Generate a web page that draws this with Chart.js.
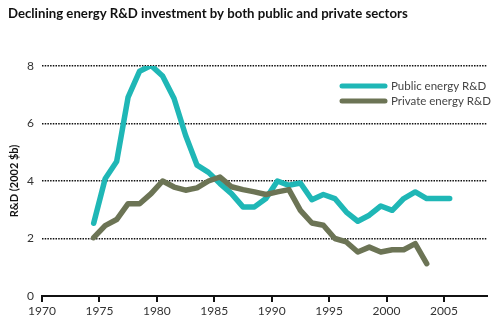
<!DOCTYPE html>
<html>
<head>
<meta charset="utf-8">
<script src="https://cdn.jsdelivr.net/npm/chart.js@4.4.0/dist/chart.umd.min.js"></script>
<style>
  html, body { margin: 0; padding: 0; background: #fff; }
  #wrap { width: 498px; height: 323px; position: relative; }
</style>
</head>
<body>
<div id="wrap"><canvas id="chart" width="498" height="323"></canvas></div>
<script>
const title = "Declining energy R&D investment by both public and private sectors";
const yTitle = "R&D (2002 $b)";
const xTicks = [1970, 1975, 1980, 1985, 1990, 1995, 2000, 2005];
const yTicks = [0, 2, 4, 6, 8];

const publicYears = [1974.5, 1975.5, 1976.5, 1977.5, 1978.5, 1979.5, 1980.5, 1981.5, 1982.5, 1983.5,
  1984.5, 1985.5, 1986.5, 1987.5, 1988.5, 1989.5, 1990.5, 1991.5, 1992.5, 1993.5,
  1994.5, 1995.5, 1996.5, 1997.5, 1998.5, 1999.5, 2000.5, 2001.5, 2002.5, 2003.5,
  2004.5, 2005.5];
const publicValues = [2.53, 4.08, 4.68, 6.92, 7.82, 8.02, 7.65, 6.87, 5.59, 4.55,
  4.3, 3.91, 3.56, 3.1, 3.1, 3.39, 4.0, 3.85, 3.93, 3.35,
  3.53, 3.39, 2.92, 2.6, 2.81, 3.13, 2.98, 3.39, 3.62, 3.39,
  3.39, 3.39];

const privateYears = [1974.5, 1975.5, 1976.5, 1977.5, 1978.5, 1979.5, 1980.5, 1981.5, 1982.5, 1983.5,
  1984.5, 1985.5, 1986.5, 1987.5, 1988.5, 1989.5, 1990.5, 1991.5, 1992.5, 1993.5,
  1994.5, 1995.5, 1996.5, 1997.5, 1998.5, 1999.5, 2000.5, 2001.5, 2002.5, 2003.5];
const privateValues = [2.03, 2.45, 2.66, 3.21, 3.21, 3.56, 4.0, 3.79, 3.68, 3.76,
  4.0, 4.14, 3.8, 3.7, 3.62, 3.53, 3.62, 3.7, 2.98, 2.54,
  2.46, 2.0, 1.88, 1.53, 1.7, 1.53, 1.61, 1.61, 1.82, 1.13];

const seriesNames = ["Public energy R&D", "Private energy R&D"];
const colors = ["#1fb7b6", "#6c7455"];

const toPoints = (xs, ys) => xs.map((x, i) => ({ x: x, y: ys[i] }));

// title + legend drawn straight on the canvas
const extras = {
  id: "extras",
  afterDraw(chart) {
    const ctx = chart.ctx;
    ctx.save();
    ctx.fillStyle = "#111";
    ctx.font = "bold 13.2px Lato, 'Open Sans', sans-serif";
    ctx.textBaseline = "middle";
    ctx.textAlign = "left";
    ctx.fillText(title, 8, 14);

    ctx.font = "11.5px Lato, 'Open Sans', sans-serif";
    seriesNames.forEach((name, i) => {
      const y = 86 + i * 15;
      ctx.strokeStyle = colors[i];
      ctx.lineWidth = 5;
      ctx.lineCap = "round";
      ctx.beginPath();
      ctx.moveTo(342, y);
      ctx.lineTo(385, y);
      ctx.stroke();
      ctx.fillStyle = "#444";
      ctx.fillText(name, 391, y);
    });
    ctx.restore();
  }
};

new Chart(document.getElementById("chart"), {
  type: "line",
  data: {
    datasets: [
      {
        label: seriesNames[1],
        data: toPoints(privateYears, privateValues),
        borderColor: colors[1],
        borderWidth: 5.5,
        pointRadius: 0,
        borderJoinStyle: "round",
        borderCapStyle: "round",
        tension: 0
      },
      {
        label: seriesNames[0],
        data: toPoints(publicYears, publicValues),
        borderColor: colors[0],
        borderWidth: 5.5,
        pointRadius: 0,
        borderJoinStyle: "round",
        borderCapStyle: "round",
        tension: 0
      }
    ]
  },
  options: {
    responsive: false,
    animation: false,
    layout: { padding: { top: 66, right: 11, left: 0, bottom: 0 } },
    plugins: {
      legend: { display: false },
      title: { display: false },
      tooltip: { enabled: false }
    },
    scales: {
      x: {
        type: "linear",
        min: 1970,
        max: 2008.75,
        afterBuildTicks: (scale) => { scale.ticks = xTicks.map(v => ({ value: v })); },
        afterFit: (scale) => { scale.height = 27; },
        border: { display: true, color: "#111", width: 2 },
        grid: { drawOnChartArea: false, drawTicks: true, tickLength: 6, color: "#111", lineWidth: 2 },
        ticks: {
          color: "#333",
          padding: 2,
          maxRotation: 0,
          callback: (v) => String(v),
          font: { family: "Lato, 'Open Sans', sans-serif", size: 12 }
        }
      },
      y: {
        min: 0,
        max: 8,
        afterBuildTicks: (scale) => { scale.ticks = yTicks.map(v => ({ value: v })); },
        afterFit: (scale) => { scale.width = 42; },
        border: { display: false, dash: [1.5, 1.2] },
        grid: {
          drawTicks: false,
          color: (c) => c.tick.value === 0 ? "rgba(0,0,0,0)" : "#111",
          lineWidth: 1.6
        },
        ticks: {
          color: "#333",
          padding: 8,
          callback: (v) => String(v),
          font: { family: "Lato, 'Open Sans', sans-serif", size: 12 }
        },
        title: {
          display: true,
          text: yTitle,
          color: "#111",
          padding: { top: 8, bottom: 0 },
          font: { family: "Lato, 'Open Sans', sans-serif", size: 11, weight: "bold" }
        }
      }
    }
  },
  plugins: [extras]
});
</script>
</body>
</html>
